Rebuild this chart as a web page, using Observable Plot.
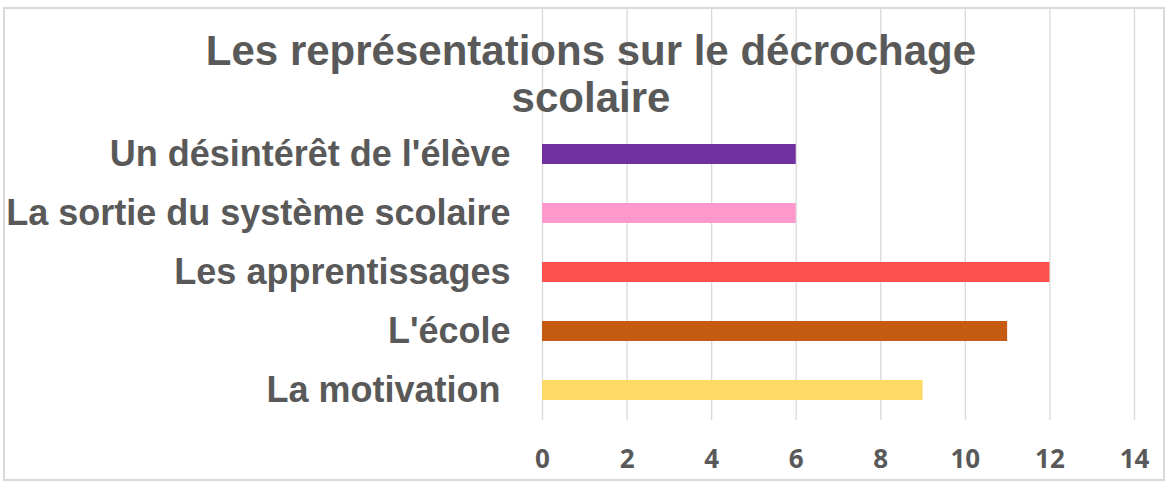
<!DOCTYPE html>
<html>
<head>
<meta charset="utf-8">
<script src="https://cdn.jsdelivr.net/npm/d3@7"></script>
<script src="https://cdn.jsdelivr.net/npm/@observablehq/plot@0.6"></script>
<style>
  html, body { margin: 0; padding: 0; background: #fff; }
  #wrap { position: relative; width: 1170px; height: 487px; }
  #frame { position: absolute; left: 3px; top: 7px; width: 1162px; height: 474px; border: 2px solid #d9d9d9; box-sizing: border-box; pointer-events: none; }
  #title { position: absolute; left: 0; width: 1182px; top: 27px; text-align: center; font-family: "Liberation Sans", Arial, sans-serif; font-weight: bold; font-size: 42px; line-height: 47px; color: #595959; }
  svg { position: absolute; left: 0; top: 0; }
</style>
</head>
<body>
<div id="wrap">
  <div id="chart"></div>
  <div id="title">Les représentations sur le décrochage<br>scolaire</div>
  <div id="frame"></div>
</div>
<script>
const categories = ["Un désintérêt de l'élève", "La sortie du système scolaire", "Les apprentissages", "L'école", "La motivation\u00a0"];
const values = [6, 6, 12, 11, 9];
const colors = ["#7030A0", "#FF99CC", "#FF5050", "#C55A11", "#FFD966"];
const xTicks = [0, 2, 4, 6, 8, 10, 12, 14];

const data = categories.map((c, i) => ({category: c, value: values[i], color: colors[i]}));

const chart = Plot.plot({
  width: 1170,
  height: 487,
  marginTop: 125,
  marginBottom: 67,
  marginLeft: 542,
  marginRight: 36,
  style: {background: "transparent", color: "#595959"},
  x: {domain: [0, 14], ticks: xTicks, label: null},
  y: {domain: categories, paddingInner: 0.66, paddingOuter: 0.33, label: null},
  marks: [
    Plot.ruleX(xTicks, {stroke: "#d9d9d9", strokeWidth: 1.3, insetTop: -117}),
    Plot.barX(data, {x: "value", y: "category", fill: "color"}),
    Plot.axisY({tickSize: 0, tickPadding: 32, fontSize: 36, fontWeight: "bold", fontFamily: "Liberation Sans, Arial, sans-serif", fill: "#595959"}),
    Plot.axisX({ticks: xTicks, tickSize: 0, tickPadding: 29, fontSize: 26, fontWeight: "bold", fontFamily: "Open Sans, sans-serif", fill: "#595959", tickFormat: d => String(d)})
  ]
});
document.getElementById("chart").appendChild(chart);
</script>
</body>
</html>
